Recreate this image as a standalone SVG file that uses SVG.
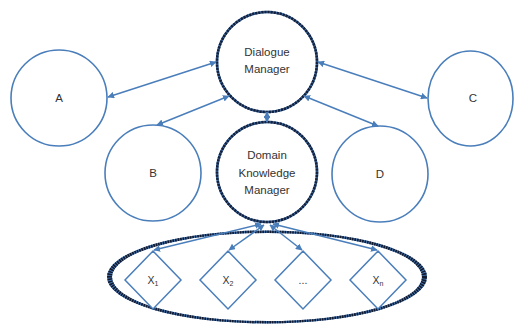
<svg xmlns="http://www.w3.org/2000/svg" width="514" height="324" viewBox="0 0 514 324">
  <style>
    .plain { fill: #ffffff; stroke: #4a7ebb; stroke-width: 1.6; }
    .hub-base { fill: #ffffff; stroke: #4a7ebb; stroke-width: 2.6; }
    .hub-dash { fill: none; stroke: #14213d; stroke-width: 2.6; stroke-dasharray: 2.4 0.7; }
    .ring { fill: #4a7ebb; fill-rule: evenodd; }
    .group-dash { fill: none; stroke: #121a30; stroke-width: 7; stroke-dasharray: 1.7 0.8; }
    .diamond { fill: #ffffff; stroke: #4a7ebb; stroke-width: 1.5; }
    .link { fill: none; stroke: #4a7ebb; stroke-width: 1.5; marker-start: url(#head); marker-end: url(#head); }
    text { font-family: "Liberation Sans", Arial, sans-serif; fill: #333333; text-anchor: middle; }
    .lbl { font-size: 11.5px; }
    .small { font-size: 10.5px; }
  </style>
  <defs>
    <marker id="head" viewBox="0 0 10 10" refX="9" refY="5" markerWidth="4.5" markerHeight="4.5" orient="auto-start-reverse" markerUnits="strokeWidth">
      <path d="M0,0 L10,5 L0,10 z" fill="#4a7ebb"/>
    </marker>
    <!-- ring that is wider at the sides than at the top and bottom -->
    <path id="ring-shape" d="M107,277 a160,46.5 0 1,0 320,0 a160,46.5 0 1,0 -320,0 z M112,277 a155,44 0 1,0 310,0 a155,44 0 1,0 -310,0 z"/>
    <clipPath id="ring-clip">
      <use href="#ring-shape" clip-rule="evenodd"/>
    </clipPath>
  </defs>

  <rect width="514" height="324" fill="#ffffff"/>

  <!-- group enclosing the knowledge items -->
  <g id="item-group">
    <use href="#ring-shape" class="ring"/>
    <ellipse class="group-dash" cx="267" cy="277" rx="157.5" ry="45.2" clip-path="url(#ring-clip)"/>
  </g>

  <g id="node-a">
    <circle class="plain" cx="59" cy="98" r="48"/>
    <text class="lbl" x="59" y="102">A</text>
  </g>
  <g id="node-c">
    <ellipse class="plain" cx="470.5" cy="98.5" rx="42.5" ry="47.5"/>
    <text class="lbl" x="473" y="102">C</text>
  </g>
  <g id="node-b">
    <circle class="plain" cx="153" cy="173" r="48"/>
    <text class="lbl" x="153" y="177">B</text>
  </g>
  <g id="node-d">
    <circle class="plain" cx="380" cy="174" r="48"/>
    <text class="lbl" x="380" y="178">D</text>
  </g>

  <g id="dialogue-manager">
    <circle class="hub-base" cx="267" cy="62" r="50"/>
    <circle class="hub-dash" cx="267" cy="62" r="50"/>
    <text class="lbl" x="267" y="56">Dialogue</text>
    <text class="lbl" x="267" y="72.5">Manager</text>
  </g>

  <g id="domain-knowledge-manager">
    <circle class="hub-base" cx="267" cy="172" r="50"/>
    <circle class="hub-dash" cx="267" cy="172" r="50"/>
    <text class="lbl" x="267" y="159">Domain</text>
    <text class="lbl" x="267" y="176.5">Knowledge</text>
    <text class="lbl" x="267" y="194">Manager</text>
  </g>

  <g id="item-x1">
    <polygon class="diamond" points="153,251 181,280 153,309 125,280"/>
    <text class="small" x="153" y="284">X<tspan font-size="7" dy="2">1</tspan></text>
  </g>
  <g id="item-x2">
    <polygon class="diamond" points="228,251 256,280 228,309 200,280"/>
    <text class="small" x="228" y="284">X<tspan font-size="7" dy="2">2</tspan></text>
  </g>
  <g id="item-more">
    <polygon class="diamond" points="303,251 331,280 303,309 275,280"/>
    <text class="small" x="303" y="284">...</text>
  </g>
  <g id="item-xn">
    <polygon class="diamond" points="378,251 406,280 378,309 350,280"/>
    <text class="small" x="378" y="284">X<tspan font-size="7" dy="2">n</tspan></text>
  </g>

  <g id="connectors">
    <line class="link" x1="216" y1="62" x2="108" y2="97"/>
    <line class="link" x1="229" y1="96" x2="157" y2="125"/>
    <line class="link" x1="318" y1="62" x2="427" y2="98"/>
    <line class="link" x1="304" y1="96" x2="378" y2="126"/>
    <line class="link" x1="267" y1="112" x2="267" y2="122"/>
    <line class="link" x1="261" y1="224" x2="154" y2="250"/>
    <line class="link" x1="264" y1="225" x2="229" y2="250"/>
    <line class="link" x1="270" y1="225" x2="302" y2="250"/>
    <line class="link" x1="273" y1="224" x2="377" y2="250"/>
  </g>
</svg>
